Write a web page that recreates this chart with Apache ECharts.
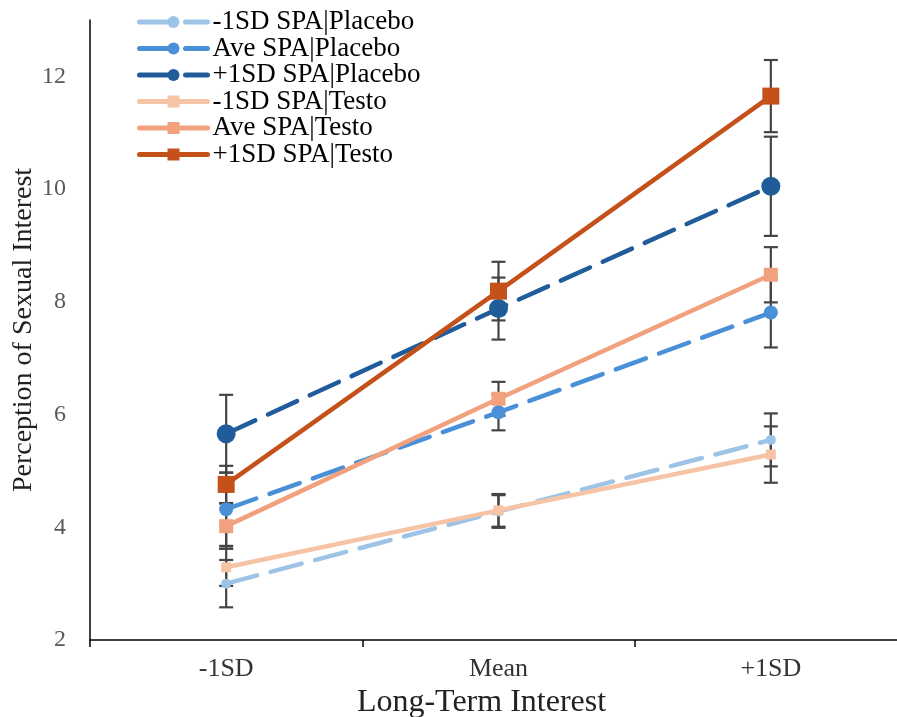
<!DOCTYPE html>
<html>
<head>
<meta charset="utf-8">
<script src="https://cdn.jsdelivr.net/npm/echarts@6/dist/echarts.min.js"></script>
<style>html,body{margin:0;padding:0;background:#fff}#c{width:897px;height:717px}</style>
</head>
<body>
<div id="c"></div>
<script>
var categories = ['-1SD', 'Mean', '+1SD'];
var seriesNames = ['-1SD SPA|Placebo', 'Ave SPA|Placebo', '+1SD SPA|Placebo', '-1SD SPA|Testo', 'Ave SPA|Testo', '+1SD SPA|Testo'];
var plcLow = [3.00, 4.28, 5.55];
var plcAve = [4.32, 6.04, 7.81];
var plcHigh = [5.66, 7.88, 10.05];
var tstLow = [3.29, 4.30, 5.29];
var tstAve = [4.02, 6.28, 8.48];
var tstHigh = [4.76, 8.19, 11.65];
var errPlcLow = [0.42, 0.29, 0.47];
var errPlcAve = [0.65, 0.32, 0.62];
var errPlcHigh = [0.69, 0.55, 0.88];
var errTstLow = [0.33, 0.29, 0.50];
var errTstAve = [0.40, 0.30, 0.49];
var errTstHigh = [0.33, 0.52, 0.64];
var yTicks = [2, 4, 6, 8, 10, 12];

var values = [plcLow, plcAve, plcHigh, tstLow, tstAve, tstHigh];
var errs = [errPlcLow, errPlcAve, errPlcHigh, errTstLow, errTstAve, errTstHigh];
var colors = ['#9DC3E6', '#4A90D9', '#1F5C99', '#F6C3A4', '#F1A17D', '#C4501A'];
var symbols = ['circle', 'circle', 'circle', 'rect', 'rect', 'rect'];
var sizes = [10, 14, 19, 10, 14, 17];
var dashed = [true, true, true, false, false, false];
var font = '"Liberation Serif", "Times New Roman", serif';

var errData = [];
values.forEach(function (arr, s) {
  arr.forEach(function (v, i) { errData.push([i, v, errs[s][i]]); });
});

var series = [{
  type: 'custom',
  name: 'err',
  z: 1,
  silent: true,
  renderItem: function (params, api) {
    var x = api.value(0), v = api.value(1), e = api.value(2);
    var top = api.coord([x, v + e]);
    var bot = api.coord([x, v - e]);
    var hw = 7;
    var st = { stroke: '#454545', lineWidth: 2.2 };
    return {
      type: 'group',
      children: [
        { type: 'line', shape: { x1: top[0], y1: top[1], x2: bot[0], y2: bot[1] }, style: st },
        { type: 'line', shape: { x1: top[0] - hw, y1: top[1], x2: top[0] + hw, y2: top[1] }, style: st },
        { type: 'line', shape: { x1: bot[0] - hw, y1: bot[1], x2: bot[0] + hw, y2: bot[1] }, style: st }
      ]
    };
  },
  encode: { x: 0, y: 1 },
  data: errData
}];

values.forEach(function (arr, s) {
  series.push({
    type: 'line',
    name: seriesNames[s],
    data: arr,
    z: 2 + s,
    symbol: symbols[s],
    symbolSize: sizes[s],
    showAllSymbol: true,
    itemStyle: { color: colors[s] },
    lineStyle: {
      color: colors[s],
      width: 4.5,
      type: dashed[s] ? [32, 14] : 'solid',
      cap: 'round'
    },
    emphasis: { disabled: true },
    animation: false
  });
});

var chart = echarts.init(document.getElementById('c'), null, { renderer: 'canvas' });
chart.setOption({
  animation: false,
  backgroundColor: '#fff',
  grid: { left: 90, width: 817, top: 20, bottom: 77, containLabel: false, outerBoundsMode: 'none' },
  legend: {
    data: seriesNames,
    orient: 'vertical',
    left: 132,
    top: 3.5,
    itemWidth: 68,
    itemHeight: 15,
    itemGap: -0.5,
    lineStyle: { width: 5 },
    textStyle: { fontFamily: font, fontSize: 27, color: '#000', padding: [0, 0, 0, 0] },
    selectedMode: false
  },
  xAxis: {
    type: 'category',
    data: categories,
    boundaryGap: true,
    axisLine: { lineStyle: { color: '#000', width: 1.5 } },
    axisTick: { show: true, length: 7, lineStyle: { color: '#000', width: 1.5 } },
    axisLabel: { fontFamily: font, fontSize: 26, color: '#333', margin: 16 },
    name: 'Long-Term Interest',
    nameLocation: 'middle',
    nameGap: 47,
    nameMoveOverlap: false,
    nameTextStyle: { fontFamily: font, fontSize: 32, color: '#222', padding: [0, 34, 0, 0] },
    splitLine: { show: false }
  },
  yAxis: {
    type: 'value',
    min: 2,
    max: 13,
    interval: 2,
    axisLine: { show: true, lineStyle: { color: '#000', width: 1.5 } },
    axisTick: { show: false },
    splitLine: { show: false },
    axisLabel: {
      fontFamily: font, fontSize: 24, color: '#595959', margin: 24,
      formatter: function (v) { return yTicks.indexOf(v) >= 0 ? String(v) : ''; }
    },
    name: 'Perception of Sexual Interest',
    nameLocation: 'middle',
    nameGap: 52,
    nameMoveOverlap: false,
    nameTextStyle: { fontFamily: font, fontSize: 28, color: '#222' }
  },
  series: series
});
</script>
</body>
</html>
